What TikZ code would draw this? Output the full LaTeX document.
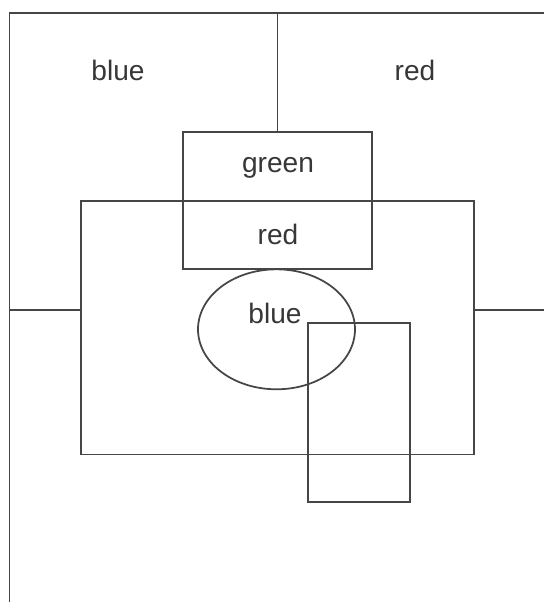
\documentclass[tikz,border=0pt]{standalone}
\usepackage{fontspec}
\setmainfont{Liberation Sans}
\usepackage{xcolor}
\usepackage{tikz}
\usetikzlibrary{shapes.geometric,positioning,calc}
\definecolor{mapline}{RGB}{70,70,70}
\definecolor{maptext}{RGB}{55,55,55}

\begin{document}
\begin{tikzpicture}[x=0.02cm,y=-0.02cm,
    region/.style={draw=mapline,line width=1pt,minimum width=#1,inner sep=0pt},
    lbl/.style={text=maptext,font=\fontsize{16}{19}\selectfont,anchor=base}]
    \useasboundingbox (0,0) rectangle (544,602);

    % Outer frame
    \coordinate (tl) at (9.4,13);
    \coordinate (tr) at (544,13);
    \coordinate (bl) at (9.4,602);
    \draw[mapline,line width=1pt] (tr) -- (tl) -- (bl);

    % Boxes
    \node[region=3.78cm,minimum height=2.74cm] (greenbox) at (277.5,200.8) {};
    \node[region=7.86cm,minimum height=5.07cm] (bigbox) at (277.5,327.7) {};
    \node[region=3.14cm,minimum height=2.4cm,ellipse] (oval) at (276.5,329.3) {};
    \node[region=2.04cm,minimum height=3.59cm] (smallbox) at (359,412.5) {};

    % Dividing lines
    \coordinate (topmid) at (tl -| greenbox.north);
    \draw[mapline,line width=1pt] (topmid) -- (greenbox.north);
    \coordinate (leftmid) at (9.4,310);
    \coordinate (rightmid) at (544,310);
    \draw[mapline,line width=1.3pt] (leftmid) -- (bigbox.west |- leftmid);
    \draw[mapline,line width=1.3pt] (bigbox.east |- rightmid) -- (rightmid);

    % Labels
    \node[lbl] (lblue) at (118,80) {blue};
    \node[lbl] (rred) at (415,80) {red};
    \node[lbl] (ggreen) at (278,172) {green};
    \node[lbl] (mred) at (278,244) {red};
    \node[lbl] (oblue) at (275,323) {blue};
\end{tikzpicture}
\end{document}
